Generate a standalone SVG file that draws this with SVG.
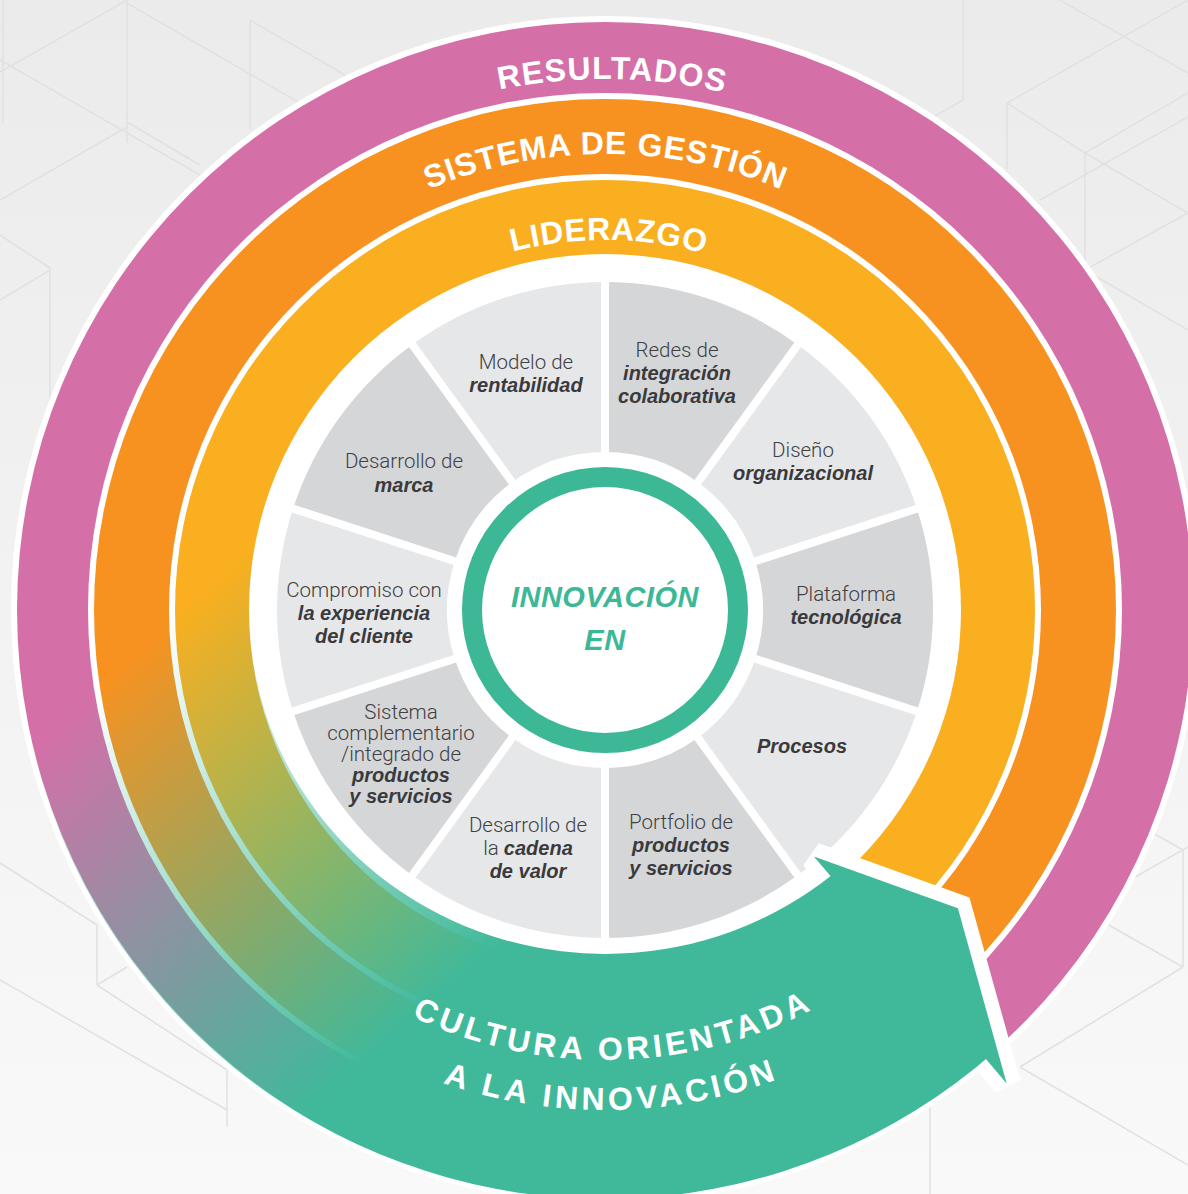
<svg xmlns="http://www.w3.org/2000/svg" width="1188" height="1194" viewBox="0 0 1188 1194">
<defs>
<linearGradient id="bg" x1="0" y1="0" x2="0" y2="1"><stop offset="0" stop-color="#ebebec"/><stop offset="1" stop-color="#f9f9f9"/></linearGradient>
<linearGradient id="fade" gradientUnits="userSpaceOnUse" x1="383" y1="435" x2="686" y2="780"><stop offset="0" stop-color="#40b99a" stop-opacity="0"/><stop offset="1" stop-color="#40b99a" stop-opacity="1"/></linearGradient>
<path id="pRes" d="M 74,610 A 531 531 0 0 1 1136,610"/>
<path id="pSis" d="M 149,610 A 456 456 0 0 1 1061,610"/>
<path id="pLid" d="M 235,610 A 370 370 0 0 1 975,610"/>
<path id="pCul" d="M 155,610 A 450 450 0 0 0 1055,610"/>
<path id="pInn" d="M 105,610 A 500 500 0 0 0 1105,610"/>
</defs>
<style>
.bgl{fill:none;stroke:#e0e1e3;stroke-width:1.5}
.light{fill:#e6e7e8}
.dark{fill:#d5d6d8}
.reg{font-family:Roboto,"Liberation Sans",Arial,sans-serif;font-weight:300;font-size:20.5px;fill:#404043;text-anchor:middle}
.bi{font-family:"Liberation Sans",Arial,sans-serif;font-size:20px;font-weight:bold;font-style:italic;fill:#3a3a3d}
.ring{font-family:"Liberation Sans",Arial,sans-serif;font-weight:bold;font-size:32px;fill:#ffffff}
.ctr{font-family:"Liberation Sans",Arial,sans-serif;font-weight:bold;font-style:italic;font-size:29px;fill:#3cb896;text-anchor:middle;letter-spacing:0.5px}
.div{stroke:#ffffff;stroke-width:8}
</style>

<g id="background">
<rect x="0" y="0" width="1188" height="1194" fill="url(#bg)"/>
<path class="bgl" d="M3,0V123 M127,0V143 M0,72L127,0 M0,60L200,175 M127,3L333,122 M0,200L127,127 M127,122L200,165 M250,20V130 M250,20L345,75 M0,235L50,268V400 M0,300L50,270 M963,0V100L935,116 M1007,103V170 M1007,103L1085,153L1188,213 M1007,103L1188,0 M1060,0L1188,73 M1085,153V270 M1085,153L1188,93 M1040,200L1188,117 M1085,270L1188,213 M1085,270L1188,330 M0,863L97,925V985 M0,980L227,1110 M227,1070V1127 M97,985L127,967 M97,985L227,1070 M1153,833L1183,850V967 M1130,880L1188,847 M1183,967L1020,1067 M1020,1067L1188,1165 M930,1103V1194 M1105,923L1183,967"/>
</g>

<g id="rings">
<circle cx="605" cy="610" r="594" fill="#ffffff"/>
<circle id="ring-resultados" cx="605" cy="610" r="588" fill="#d56fa8"/>
<circle cx="605" cy="610" r="517" fill="#ffffff"/>
<circle id="ring-sistema" cx="605" cy="610" r="511" fill="#f79220"/>
<circle cx="605" cy="610" r="436" fill="#ffffff"/>
<circle id="ring-liderazgo" cx="605" cy="610" r="430" fill="#f9af1f"/>
<circle cx="605" cy="610" r="356" fill="#ffffff"/>
</g>

<g id="seg-redes">
<path class="dark" d="M 605,282 A 328 328 0 0 1 797.79,344.64 L 697.87,482.18 A 158 158 0 0 0 605,452 Z"/>
<text class="reg"><tspan x="677" y="357">Redes de</tspan><tspan class="bi" x="677" y="380">integración</tspan><tspan class="bi" x="677" y="403">colaborativa</tspan></text>
</g>
<g id="seg-diseno">
<path class="light" d="M 797.79,344.64 A 328 328 0 0 1 916.95,508.64 L 755.27,561.18 A 158 158 0 0 0 697.87,482.18 Z"/>
<text class="reg"><tspan x="803" y="457">Diseño</tspan><tspan class="bi" x="803" y="480">organizacional</tspan></text>
</g>
<g id="seg-plataforma">
<path class="dark" d="M 916.95,508.64 A 328 328 0 0 1 916.95,711.36 L 755.27,658.82 A 158 158 0 0 0 755.27,561.18 Z"/>
<text class="reg"><tspan x="846" y="601">Plataforma</tspan><tspan class="bi" x="846" y="624">tecnológica</tspan></text>
</g>
<g id="seg-procesos">
<path class="light" d="M 916.95,711.36 A 328 328 0 0 1 797.79,875.36 L 697.87,737.82 A 158 158 0 0 0 755.27,658.82 Z"/>
<text class="reg"><tspan class="bi" x="802" y="753">Procesos</tspan></text>
</g>
<g id="seg-portfolio">
<path class="dark" d="M 797.79,875.36 A 328 328 0 0 1 605,938 L 605,768 A 158 158 0 0 0 697.87,737.82 Z"/>
<text class="reg"><tspan x="681" y="829">Portfolio de</tspan><tspan class="bi" x="681" y="852">productos</tspan><tspan class="bi" x="681" y="875">y servicios</tspan></text>
</g>
<g id="seg-cadena">
<path class="light" d="M 605,938 A 328 328 0 0 1 412.21,875.36 L 512.13,737.82 A 158 158 0 0 0 605,768 Z"/>
<text class="reg"><tspan x="528" y="832">Desarrollo de</tspan><tspan x="528" y="855">la <tspan class="bi">cadena</tspan></tspan><tspan class="bi" x="528" y="878">de valor</tspan></text>
</g>
<g id="seg-sistema">
<path class="dark" d="M 412.21,875.36 A 328 328 0 0 1 293.05,711.36 L 454.73,658.82 A 158 158 0 0 0 512.13,737.82 Z"/>
<text class="reg"><tspan x="401" y="719">Sistema</tspan><tspan x="401" y="740">complementario</tspan><tspan x="401" y="761">/integrado de</tspan><tspan class="bi" x="401" y="782">productos</tspan><tspan class="bi" x="401" y="803">y servicios</tspan></text>
</g>
<g id="seg-compromiso">
<path class="light" d="M 293.05,711.36 A 328 328 0 0 1 293.05,508.64 L 454.73,561.18 A 158 158 0 0 0 454.73,658.82 Z"/>
<text class="reg"><tspan x="364" y="597">Compromiso con</tspan><tspan class="bi" x="364" y="620">la experiencia</tspan><tspan class="bi" x="364" y="643">del cliente</tspan></text>
</g>
<g id="seg-marca">
<path class="dark" d="M 293.05,508.64 A 328 328 0 0 1 412.21,344.64 L 512.13,482.18 A 158 158 0 0 0 454.73,561.18 Z"/>
<text class="reg"><tspan x="404" y="468">Desarrollo de</tspan><tspan class="bi" x="404" y="492">marca</tspan></text>
</g>
<g id="seg-modelo">
<path class="light" d="M 412.21,344.64 A 328 328 0 0 1 605,282 L 605,452 A 158 158 0 0 0 512.13,482.18 Z"/>
<text class="reg"><tspan x="526" y="369">Modelo de</tspan><tspan class="bi" x="526" y="392">rentabilidad</tspan></text>
</g>

<g id="dividers">
<line class="div" x1="605" y1="270" x2="605" y2="950"/>
<line class="div" x1="804.85" y1="334.93" x2="405.15" y2="885.07"/>
<line class="div" x1="928.36" y1="504.93" x2="281.64" y2="715.07"/>
<line class="div" x1="928.36" y1="715.07" x2="281.64" y2="504.93"/>
<line class="div" x1="804.85" y1="885.07" x2="405.15" y2="334.93"/>
</g>

<g id="cultura">
<path d="M 813.9,856.4 L 957.9,908.2 L 1006.7,1083.6 Z" fill="#40b99a" stroke="#ffffff" stroke-width="28" stroke-linejoin="miter" stroke-miterlimit="2" paint-order="stroke"/>
<path d="M 993.7,1052.5 A 589 589 0 0 1 51.5,408.6 L 270.5,492.3 A 356 344 0 0 0 832.9,874.2 Z" fill="url(#fade)"/>
<text class="ring" font-size="34"><textPath href="#pCul" startOffset="50.5%" text-anchor="middle" textLength="414" lengthAdjust="spacing">CULTURA ORIENTADA</textPath></text>
<text class="ring" font-size="34"><textPath href="#pInn" startOffset="50.3%" text-anchor="middle" textLength="340" lengthAdjust="spacing">A LA INNOVACIÓN</textPath></text>
</g>

<g id="ring-labels">
<text class="ring" font-size="33"><textPath href="#pRes" startOffset="50.4%" text-anchor="middle" textLength="226" lengthAdjust="spacing">RESULTADOS</textPath></text>
<text class="ring" font-size="33"><textPath href="#pSis" startOffset="50%" text-anchor="middle" textLength="362" lengthAdjust="spacing">SISTEMA DE GESTIÓN</textPath></text>
<text class="ring"><textPath href="#pLid" startOffset="50.3%" text-anchor="middle" textLength="194" lengthAdjust="spacing">LIDERAZGO</textPath></text>
</g>

<g id="center">
<circle cx="605" cy="610" r="133" fill="#ffffff" stroke="#3cb896" stroke-width="20"/>
<text class="ctr" x="605" y="607">INNOVACIÓN</text>
<text class="ctr" x="605" y="650">EN</text>
</g>
</svg>
